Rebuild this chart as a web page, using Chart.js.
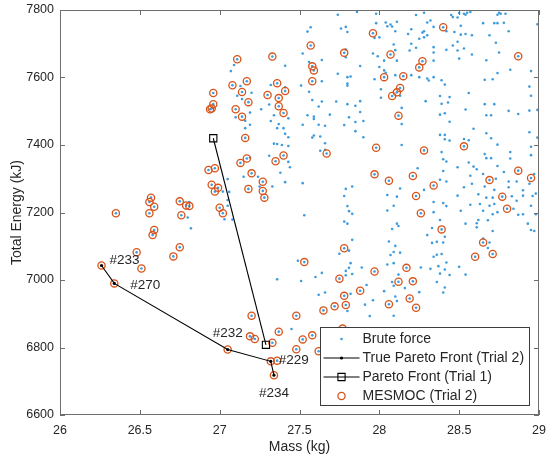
<!DOCTYPE html>
<html>
<head>
<meta charset="utf-8">
<script src="https://cdn.jsdelivr.net/npm/chart.js@4.4.1/dist/chart.umd.min.js"></script>
<style>
	html, body { margin: 0; padding: 0; background: #ffffff; }
	#wrap { width: 546px; height: 457px; }
</style>
</head>
<body>
<div id="wrap"><canvas id="chart-canvas" width="546" height="457"></canvas></div>
<script>
// axis ticks
const massTicks = [26, 26.5, 27, 27.5, 28, 28.5, 29];
const energyTicks = [6600, 6800, 7000, 7200, 7400, 7600, 7800];

// series names, in legend order
const seriesNames = ["Brute force", "True Pareto Front (Trial 2)", "Pareto Front (Trial 1)", "MESMOC (Trial 2)"];

// brute force designs [mass kg, energy kJ] (the MESMOC points are added on top of these)
const bruteForce = [
	[27.57,7749],[27.55,7736],[27.74,7786],[27.86,7794],[27.98,7789],[27.98,7761],[27.76,7745],[27.79,7750],[27.80,7735],[27.97,7717],
	[28.00,7719],[27.52,7671],[27.56,7646],[27.64,7652],[27.79,7683],[27.79,7660],[27.09,7637],[27.41,7635],[27.74,7611],[27.80,7601],
	[27.82,7603],[27.80,7582],[27.80,7576],[27.64,7589],[27.51,7576],[27.88,7634],[27.97,7595],[27.96,7671],[27.99,7663],[28.03,7650],
	[28.00,7631],[28.03,7621],[27.56,7558],[27.58,7533],[27.64,7529],[27.62,7514],[27.73,7529],[27.80,7521],[27.85,7516],[27.88,7530],
	[27.88,7498],[28.01,7565],[28.01,7540],[27.20,7555],[27.14,7536],[27.11,7546],[27.32,7578],[27.41,7571],[27.31,7520],[27.26,7506],
	[27.34,7488],[27.19,7496],[27.55,7488],[27.59,7484],[27.69,7490],[27.81,7482],[27.10,7482],[27.07,7619],[27.13,7575],
	[27.16,7472],[27.19,7460],[27.16,7450],[27.32,7471],[27.43,7479],[27.37,7462],[27.36,7450],[27.40,7450],[27.41,7433],[27.43,7423],
	[27.34,7404],[27.36,7403],[27.39,7400],[27.43,7397],[27.52,7460],[27.59,7477],[27.62,7460],[27.66,7457],[27.59,7428],[27.58,7422],
	[27.63,7425],[27.66,7405],[27.63,7383],[27.66,7386],[27.85,7468],[27.90,7471],[27.78,7459],[27.85,7441],[27.90,7423],[27.19,7363],
	[27.43,7350],[27.44,7334],[27.38,7318],[27.15,7306],[27.41,7290],[27.52,7287],[27.25,7277],[27.53,7192],[27.79,7270],[27.83,7277],
	[27.78,7249],[27.80,7219],[27.81,7204],[27.83,7196],[27.78,7173],[27.80,7167],[27.24,7306],[27.05,7299],[27.02,7262],[27.06,7261],
	[27.05,7237],[27.03,7180],[27.05,7220],[26.81,7231],[26.80,7185],[26.82,7153],[27.31,7368],[27.33,7277],[27.08,7179],[27.36,7002],
	[28.23,7785],[28.28,7792],[28.45,7785],[28.46,7779],[28.49,7778],[28.50,7791],[28.53,7789],[28.54,7786],[28.55,7792],[28.57,7794],
	[28.74,7786],[28.75,7792],[28.76,7789],[28.79,7789],[28.30,7763],[28.32,7769],[28.04,7763],[28.07,7757],[28.08,7751],[28.11,7765],
	[28.05,7752],[28.10,7737],[28.20,7743],[28.18,7729],[28.27,7733],[28.28,7737],[28.34,7750],[28.42,7737],[28.47,7735],[28.51,7753],
	[28.51,7727],[28.54,7729],[28.58,7725],[28.65,7761],[28.72,7761],[28.74,7761],[28.78,7762],[28.81,7737],[28.69,7725],[28.28,7719],
	[28.25,7715],[28.30,7725],[28.20,7700],[28.23,7688],[28.09,7698],[28.10,7681],[28.19,7680],[28.34,7690],[28.34,7674],[28.46,7695],
	[28.49,7706],[28.49,7680],[28.53,7686],[28.58,7668],[28.42,7682],[28.73,7703],[28.75,7674],[28.50,7656],[28.34,7650],[28.11,7650],
	[28.67,7651],[28.95,7619],[28.82,7623],[28.74,7613],[28.04,7614],[28.10,7607],[28.20,7607],[28.25,7601],[28.30,7597],[28.31,7591],
	[28.34,7601],[28.39,7592],[28.41,7579],[28.56,7554],[28.66,7593],[28.71,7595],[28.94,7573],[28.95,7546],[28.13,7546],[28.29,7530],
	[28.38,7545],[28.44,7542],[28.39,7522],[28.43,7526],[28.54,7505],[28.66,7521],[28.72,7521],[28.14,7510],[28.38,7490],[28.41,7494],
	[28.67,7488],[28.70,7488],[28.81,7501],[28.94,7502],[28.87,7492],[28.99,7758],[28.99,7504],[28.99,7422],
	[28.14,7462],[28.44,7469],[28.59,7448],[28.38,7430],[28.41,7430],[28.41,7417],[28.44,7413],[28.53,7418],[28.56,7414],[28.70,7420],
	[28.67,7435],[28.94,7438],[28.14,7400],[28.74,7401],[28.82,7379],[28.95,7395],[28.95,7370],[28.39,7379],[28.66,7373],[28.67,7361],
	[28.70,7361],[28.82,7360],[28.40,7358],[28.42,7351],[28.56,7348],[28.24,7331],[28.49,7334],[28.59,7336],[28.61,7328],[28.74,7338],
	[28.40,7323],[28.78,7320],[28.65,7314],[28.57,7309],[28.38,7297],[28.42,7292],[28.73,7300],[28.81,7292],[28.86,7292],[28.97,7314],
	[28.66,7277],[28.72,7267],[28.81,7275],[28.90,7266],[28.94,7285],[28.13,7271],[28.28,7267],[28.53,7275],[28.58,7285],[28.05,7252],
	[28.11,7247],[28.49,7250],[28.62,7254],[28.67,7244],[28.71,7244],[28.83,7248],[28.86,7235],[28.90,7250],[28.96,7249],[28.98,7256],
	[28.34,7231],[28.40,7228],[28.42,7219],[28.57,7223],[28.63,7225],[28.69,7220],[28.72,7225],[28.09,7220],[28.95,7220],[28.05,7206],
	[28.51,7205],[28.34,7201],[28.65,7205],[28.71,7195],[28.74,7201],[28.84,7211],[28.87,7193],[28.90,7195],[28.98,7195],[28.38,7178],
	[28.54,7167],[28.61,7168],[28.62,7178],[28.68,7177],[28.11,7167],[28.93,7167],
	[27.83,7119],[27.75,7078],[27.81,7087],[27.49,7057],[27.51,6997],[27.60,7009],[27.64,7021],[27.82,7050],[27.81,7036],[27.79,7027],
	[27.89,7037],[27.79,7014],[27.83,7018],[27.92,6985],[28.03,6967],[27.62,6956],[27.66,6963],[27.82,6959],[27.91,6927],[27.96,6940],
	[27.80,6908],[27.94,6893],[27.45,6855],
	[28.08,7151],[28.12,7160],[28.33,7154],[28.61,7156],[28.71,7145],[28.95,7148],[28.97,7145],[28.30,7133],[28.41,7128],[28.33,7110],
	[28.36,7113],[28.40,7111],[28.65,7123],[28.69,7111],[28.68,7095],[28.06,7114],[28.10,7101],[28.09,7083],[28.13,7081],[28.07,7074],
	[28.36,7075],[28.39,7077],[28.34,7069],[28.05,7046],[28.09,7050],[28.26,7037],[28.32,7033],[28.37,7041],[28.41,7031],[28.42,7052],
	[28.50,7039],[28.38,7019],[28.44,7015],[28.54,7016],[28.12,7016],[28.08,6994],[28.09,6983],[28.16,6976],[28.36,6994],[28.41,6978],
	[28.40,6963],[28.25,6964],[28.10,6951],[28.11,6938],[28.09,6894]
];

// designs evaluated by MESMOC in trial 2
const mesmoc = [
	[26.35,7198],[26.57,7244],[26.56,7231],[26.59,7217],[26.56,7198],[26.59,7148],[26.58,7133],[26.48,7082],[26.51,7034],[26.75,7233],
	[26.79,7221],[26.81,7219],[26.76,7192],[26.75,7097],[26.71,7070],[26.93,7326],[26.97,7331],[26.95,7282],[26.99,7273],[26.97,7262],
	[27.00,7214],[27.02,7198],[26.94,7506],[26.95,7508],[26.96,7521],[26.96,7554],[27.11,7654],[27.08,7577],[27.14,7557],[27.17,7589],
	[27.18,7527],[27.10,7506],[27.14,7484],[27.16,7421],[27.17,7360],[27.13,7347],[27.20,7316],[27.18,7270],[27.27,7291],[27.27,7264],
	[27.28,7244],[27.33,7662],[27.36,7583],[27.30,7548],[27.37,7539],[27.37,7515],[27.40,7495],[27.41,7560],[27.35,7352],[27.40,7369],
	[27.57,7695],[27.58,7633],[27.59,7621],[27.58,7589],[27.67,7375],[27.78,7673],[27.96,7731],[28.03,7601],[28.07,7668],[28.27,7648],
	[28.25,7630],[28.15,7604],[28.13,7569],[28.11,7556],[28.08,7545],[28.12,7487],[28.40,7749],[28.87,7663],[27.98,7392],[27.97,7313],
	[28.28,7384],[28.53,7396],[28.06,7294],[28.21,7308],[28.34,7280],[28.23,7249],[28.26,7198],[28.69,7296],[28.87,7324],[28.95,7302],
	[28.77,7247],[28.80,7211],[28.39,7150],[28.65,7111],[28.71,7077],[28.60,7069],[28.17,7036],[28.12,6995],[28.21,6996],[28.19,6945],
	[28.23,6918],[28.06,6928],[27.78,7094],[27.53,7053],[27.97,7025],[27.75,7004],[27.88,6968],[27.78,6953],[27.79,6926],[27.72,6922],
	[27.65,6910],[27.48,6894],[27.20,6894],[27.37,6847],[27.19,6833],[27.22,6825],[27.33,6814],[27.52,6824],[27.58,6836],[27.48,6795],
	[27.62,6789],[27.77,6856],[27.36,6761]
];

// true Pareto front of trial 2 and the design ids that are written next to it
const truePareto = [[26.26,7043],[26.34,6990],[27.05,6794],[27.32,6759],[27.34,6718]];
const trueParetoIds = ["#233", "#270", "#232", "#229", "#234"];

// Pareto front found in trial 1
const paretoTrial1 = [[26.96,7420],[27.29,6808]];

// colours and fonts (MATLAB defaults)
const BLUE = "#3f9cdc";
const ORANGE = "#D95319";
const AXIS_COLOR = "#6e6e6e";
const TEXT_COLOR = "#262626";
const FONT = "'Liberation Sans', Arial, Helvetica, sans-serif";

/**
 * Function: toXY
 * @param ([[number, number]]) pairs
 * @returns ([object]) points for Chart.js
 */
function toXY(pairs) {
	return pairs.map(p => ({ x: p[0], y: p[1] }));
}

/**
 * Function: drawMarker
 * Draws one legend marker of a given kind centred on (cx, cy)
 */
function drawMarker(ctx, kind, cx, cy) {
	ctx.beginPath();
	if (kind === "dot") {
		ctx.fillStyle = BLUE;
		ctx.arc(cx, cy, 1.3, 0, Math.PI * 2);
		ctx.fill();
	} else if (kind === "blackdot") {
		ctx.fillStyle = "#000";
		ctx.arc(cx, cy, 1.6, 0, Math.PI * 2);
		ctx.fill();
	} else if (kind === "square") {
		ctx.strokeStyle = "#000";
		ctx.lineWidth = 1.1;
		ctx.rect(cx - 3.6, cy - 3.6, 7.2, 7.2);
		ctx.stroke();
	} else if (kind === "circle") {
		ctx.strokeStyle = ORANGE;
		ctx.lineWidth = 1.3;
		ctx.arc(cx, cy, 3.6, 0, Math.PI * 2);
		ctx.stroke();
	}
}

// box, inward ticks, point ids and the legend inside the axes
const matlabFrame = {
	id: "matlabFrame",
	afterDatasetsDraw(chart) {
		const ctx = chart.ctx;
		const a = chart.chartArea;
		const xs = chart.scales.x;
		const ys = chart.scales.y;
		ctx.save();

		// ids next to the true Pareto front
		const placement = [
			{ dx: 8, dy: -5, align: "left" },
			{ dx: 16, dy: 2, align: "left" },
			{ dx: 0, dy: -16, align: "center" },
			{ dx: 8, dy: -1, align: "left" },
			{ dx: 0, dy: 18, align: "center" }
		];
		ctx.fillStyle = TEXT_COLOR;
		ctx.font = "13.5px " + FONT;
		ctx.textBaseline = "middle";
		truePareto.forEach(function(p, i) {
			const px = xs.getPixelForValue(p[0]);
			const py = ys.getPixelForValue(p[1]);
			ctx.textAlign = placement[i].align;
			ctx.fillText(trueParetoIds[i], px + placement[i].dx, py + placement[i].dy);
		});

		// axes box
		ctx.strokeStyle = AXIS_COLOR;
		ctx.lineWidth = 1;
		ctx.strokeRect(Math.round(a.left) + 0.5, Math.round(a.top) + 0.5, Math.round(a.right - a.left) - 1, Math.round(a.bottom - a.top) - 1);

		// inward tick marks on all four sides
		ctx.beginPath();
		massTicks.forEach(function(v) {
			const px = Math.round(xs.getPixelForValue(v)) + 0.5;
			ctx.moveTo(px, a.bottom); ctx.lineTo(px, a.bottom - 5);
			ctx.moveTo(px, a.top); ctx.lineTo(px, a.top + 5);
		});
		energyTicks.forEach(function(v) {
			const py = Math.round(ys.getPixelForValue(v)) + 0.5;
			ctx.moveTo(a.left, py); ctx.lineTo(a.left + 5, py);
			ctx.moveTo(a.right, py); ctx.lineTo(a.right - 5, py);
		});
		ctx.stroke();

		// legend box in the lower right corner
		const bw = 209, bh = 78;
		const bx = Math.round(a.right - 10 - bw) + 0.5;
		const by = Math.round(a.bottom - 10 - bh) + 0.5;
		ctx.fillStyle = "#ffffff";
		ctx.fillRect(bx, by, bw, bh);
		ctx.strokeStyle = "#3c3c3c";
		ctx.lineWidth = 1;
		ctx.strokeRect(bx, by, bw, bh);

		const kinds = [["dot"], ["line", "blackdot"], ["line", "square"], ["circle"]];
		ctx.font = "14px " + FONT;
		ctx.textAlign = "left";
		ctx.textBaseline = "middle";
		seriesNames.forEach(function(name, i) {
			const cy = by + 11.5 + i * 19;
			const cx = bx + 21;
			kinds[i].forEach(function(k) {
				if (k === "line") {
					ctx.beginPath();
					ctx.strokeStyle = "#000";
					ctx.lineWidth = 1.1;
					ctx.moveTo(bx + 3, cy);
					ctx.lineTo(bx + 39, cy);
					ctx.stroke();
				} else {
					drawMarker(ctx, k, cx, cy);
				}
			});
			ctx.fillStyle = TEXT_COLOR;
			ctx.fillText(name, bx + 42, cy + 0.5);
		});

		ctx.restore();
	}
};

var canvas = document.getElementById("chart-canvas");
var myChart = new Chart(canvas, {
	type: "scatter",
	data: {
		datasets: [
			{
				label: seriesNames[1],
				data: toXY(truePareto),
				showLine: true,
				borderColor: "#000",
				borderWidth: 1.1,
				pointRadius: 1.6,
				pointBackgroundColor: "#000",
				pointBorderWidth: 0,
				order: 1
			},
			{
				label: seriesNames[2],
				data: toXY(paretoTrial1),
				showLine: true,
				borderColor: "#000",
				borderWidth: 1.1,
				pointStyle: "rect",
				pointRadius: 5.1,
				pointBorderColor: "#000",
				pointBackgroundColor: "rgba(0,0,0,0)",
				pointBorderWidth: 1.1,
				order: 2
			},
			{
				label: seriesNames[3],
				data: toXY(mesmoc.concat(truePareto)),
				showLine: false,
				pointRadius: 3.6,
				pointBorderColor: ORANGE,
				pointBorderWidth: 1.3,
				pointBackgroundColor: "rgba(0,0,0,0)",
				order: 3
			},
			{
				label: seriesNames[0],
				data: toXY(bruteForce.concat(mesmoc)),
				showLine: false,
				pointRadius: 1.3,
				pointBackgroundColor: BLUE,
				pointBorderWidth: 0,
				order: 4
			}
		]
	},
	options: {
		responsive: false,
		devicePixelRatio: 1,
		animation: false,
		events: [],
		layout: { padding: { top: 10, right: 7, left: 0, bottom: 0 } },
		plugins: {
			legend: { display: false },
			tooltip: { enabled: false }
		},
		scales: {
			x: {
				type: "linear",
				min: 26,
				max: 29,
				afterBuildTicks: function(s) { s.ticks = massTicks.map(v => ({ value: v })); },
				afterFit: function(s) {
					// fixed height, and no extra room for the end labels
					s.height = 42;
					s.paddingLeft = 0;
					s.paddingRight = 0;
				},
				grid: { display: false, drawTicks: false },
				border: { display: false },
				ticks: {
					color: TEXT_COLOR,
					font: { family: FONT, size: 12.5 },
					padding: 8,
					maxRotation: 0,
					autoSkip: false,
					callback: v => String(v)
				},
				title: {
					display: true,
					text: "Mass (kg)",
					color: TEXT_COLOR,
					font: { family: FONT, size: 14 },
					padding: { top: 0, bottom: 1 }
				}
			},
			y: {
				type: "linear",
				min: 6600,
				max: 7800,
				afterBuildTicks: function(s) { s.ticks = energyTicks.map(v => ({ value: v })); },
				afterFit: function(s) {
					s.width = 60;
					s.paddingTop = 0;
					s.paddingBottom = 0;
				},
				grid: { display: false, drawTicks: false },
				border: { display: false },
				ticks: {
					color: TEXT_COLOR,
					font: { family: FONT, size: 12.5 },
					padding: 6,
					autoSkip: false,
					callback: v => String(v)
				},
				title: {
					display: true,
					text: "Total Energy (kJ)",
					color: TEXT_COLOR,
					font: { family: FONT, size: 14 },
					padding: { top: 9, bottom: 0 }
				}
			}
		}
	},
	plugins: [matlabFrame]
});
</script>
</body>
</html>
